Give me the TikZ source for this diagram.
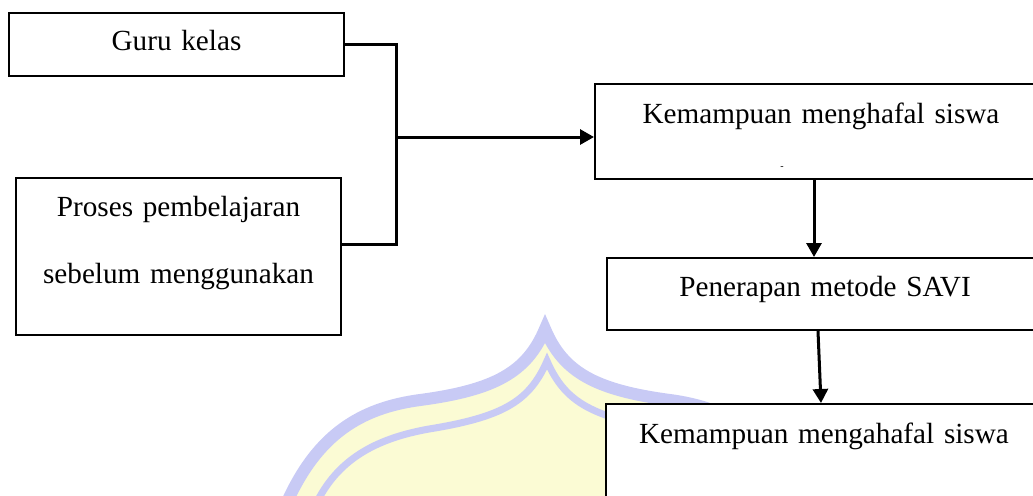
\documentclass[tikz,border=0pt]{standalone}
\usepackage{fontspec}
\setmainfont{Liberation Serif}
\usepackage{tikz}
\usetikzlibrary{arrows.meta,positioning}

\definecolor{crestblue}{RGB}{200,202,245}
\definecolor{crestyellow}{RGB}{251,251,212}

\begin{document}
\begin{tikzpicture}[
    x=0.5pt, y=-0.5pt,
    font=\fontsize{14.6}{18}\selectfont,
    box/.style={draw, line width=1pt, fill=white, inner sep=0pt, align=center, anchor=north west},
    wire/.style={line width=1.5pt},
    flow/.style={-{Triangle[length=7pt, width=7.5pt]}, line width=1.5pt}
]
\useasboundingbox (0,0) rectangle (1033,495);
\clip (0,0) rectangle (1033,495);

% crest in the background
\fill[crestyellow] (288,500) .. controls (318,435) and (360,408) .. (420,400)
    .. controls (495,390) and (527,372) .. (545,329)
    .. controls (563,372) and (595,390) .. (670,400)
    .. controls (730,408) and (772,435) .. (802,500) -- cycle;
\draw[crestblue, line width=6pt] (288,500) .. controls (318,435) and (360,408) .. (420,400)
    .. controls (495,390) and (527,372) .. (545,329)
    .. controls (563,372) and (595,390) .. (670,400)
    .. controls (730,408) and (772,435) .. (802,500);
\draw[crestblue, line width=3.5pt] (318,500) .. controls (340,458) and (378,437) .. (435,428)
    .. controls (505,416) and (530,400) .. (547,361)
    .. controls (564,400) and (589,416) .. (659,428)
    .. controls (716,437) and (754,458) .. (776,500);

\node[box, text width=167.5pt, text height=18.5pt, text depth=13pt] (guru) at (8,12) {Guru kelas};
\node[box, text width=162.5pt, text height=19pt, text depth=59.5pt] (proses) at (15,177) {Proses pembelajaran\\[15.5pt]sebelum menggunakan};
\node[box, text width=226pt, text height=19.5pt, text depth=28pt] (hafal) at (594,83) {Kemampuan menghafal siswa};
\node[font=\tiny, inner sep=0pt] (mark) at (782,168) {-};
\node[box, text width=218pt, text height=19pt, text depth=17pt] (savi) at (606,257) {Penerapan metode SAVI};
\node[box, text width=218pt, text height=19.5pt, text depth=44pt] (hasil) at (605,403) {Kemampuan mengahafal siswa};

\coordinate (join) at (396,137);
\draw[wire] (guru.east) -| (join) |- ([yshift=6.25pt]proses.east);
\draw[flow] (join) -- (join -| hafal.west);
\draw[flow] ([xshift=-3.5pt]hafal.south) -- ([xshift=-5.5pt]savi.north);
\draw[flow] ([xshift=-3.5pt]savi.south) -- ([xshift=-1.5pt]hasil.north);
\end{tikzpicture}
\end{document}
